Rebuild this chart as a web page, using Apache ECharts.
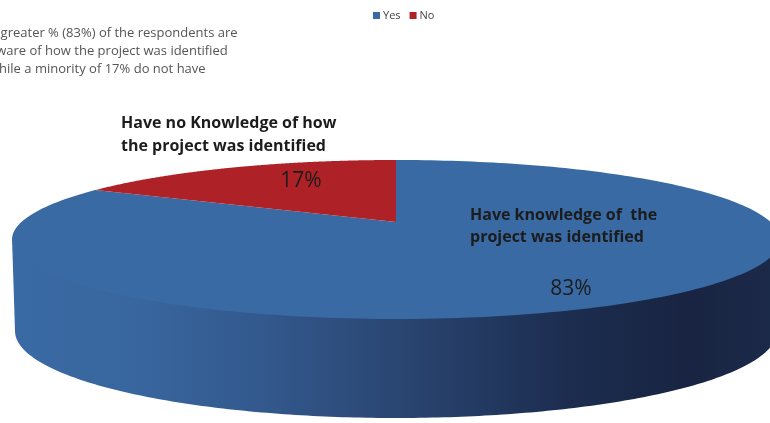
<!DOCTYPE html>
<html>
<head>
<meta charset="utf-8">
<style>
html,body{margin:0;padding:0;background:#fff;overflow:hidden}
#c{width:770px;height:423px;filter:blur(0.6px)}
</style>
<script src="https://cdn.jsdelivr.net/npm/echarts@6/dist/echarts.min.js"></script>
</head>
<body>
<div id="c"></div>
<script>
const categories = ['Yes', 'No'];
const values = [83, 17];
const percentLabels = ['83%', '17%'];
const sliceNotes = [
  'Have knowledge of  the\nproject was identified',
  'Have no Knowledge of how\nthe project was identified'
];
const noteLines = [
  'A greater % (83%) of the respondents are',
  'aware of how the project was identified',
  'while a minority of 17% do not have'
];
const colors = ['#3a6aa4', '#ae2227'];

const total = values.reduce((a, b) => a + b, 0);
const topRim = { cx: 396, cy: 239.5, rx: 384, ry: 79.5 };
const bottomRim = { cx: 396, cy: 331, rx: 381, ry: 87 };
const apex = { x: 396, y: 222, k: 74 };

// Perspective projection: ray from the apex at pie angle a, meeting the top ellipse
function rim(a) {
  const dx = topRim.rx * Math.sin(a), dy = -apex.k * Math.cos(a);
  const ox = (apex.x - topRim.cx) / topRim.rx, oy = (apex.y - topRim.cy) / topRim.ry;
  const ux = dx / topRim.rx, uy = dy / topRim.ry;
  const A = ux * ux + uy * uy, B = 2 * (ox * ux + oy * uy), C = ox * ox + oy * oy - 1;
  const t = (-B + Math.sqrt(B * B - 4 * A * C)) / (2 * A);
  return [apex.x + t * dx, apex.y + t * dy];
}
function sector(start, end) {
  const pts = [[apex.x, apex.y]];
  const n = 240;
  for (let i = 0; i <= n; i++) pts.push(rim(start + (end - start) * i / n));
  return pts;
}
function sidePoints() {
  const pts = [];
  for (let i = 0; i <= 200; i++) {
    const t = Math.PI * i / 200;
    pts.push([topRim.cx + topRim.rx * Math.cos(t), topRim.cy - 1.5 + topRim.ry * Math.sin(t)]);
  }
  for (let i = 200; i >= 0; i--) {
    const t = Math.PI * i / 200;
    pts.push([bottomRim.cx + bottomRim.rx * Math.cos(t), bottomRim.cy + bottomRim.ry * Math.sin(t)]);
  }
  return pts;
}
const sideGradient = new echarts.graphic.LinearGradient(12, 0, 782, 0, [
  { offset: 0, color: '#3a6aa4' },
  { offset: 0.16, color: '#38669e' },
  { offset: 0.32, color: '#33598e' },
  { offset: 0.5, color: '#2a4672' },
  { offset: 0.72, color: '#1c2d50' },
  { offset: 0.88, color: '#182441' },
  { offset: 1, color: '#1c2a4a' }
], true);

const labelPos = [
  { pct: [571, 289], note: [470, 226.5] },
  { pct: [301, 181], note: [121, 135] }
];
const fontFam = '"Open Sans", Lato, sans-serif';

function makeSeries(idx) {
  const before = values.slice(0, idx).reduce((a, b) => a + b, 0);
  return {
    type: 'custom',
    name: categories[idx],
    coordinateSystem: 'none',
    silent: true,
    animation: false,
    itemStyle: { color: colors[idx] },
    data: [[values[idx]]],
    renderItem: function (params, api) {
      const v = api.value(0);
      const a0 = 2 * Math.PI * before / total;
      const a1 = a0 + 2 * Math.PI * v / total;
      const children = [];
      if (idx === 0) {
        children.push({
          type: 'polygon', shape: { points: sidePoints() },
          style: { fill: sideGradient }
        });
      }
      children.push({
        type: 'polygon', shape: { points: sector(a0, a1) },
        style: { fill: colors[idx] }
      });
      const p = labelPos[idx];
      children.push({
        type: 'text', z2: 10,
        style: {
          x: p.note[0], y: p.note[1], text: sliceNotes[idx], fill: '#1c1c1c',
          font: 'bold 16px ' + fontFam, lineHeight: 22.5, textVerticalAlign: 'middle'
        }
      });
      children.push({
        type: 'text', z2: 10,
        style: {
          x: p.pct[0], y: p.pct[1], text: percentLabels[idx], fill: '#1c1c1c',
          font: '21px ' + fontFam, textAlign: 'center', textVerticalAlign: 'middle'
        }
      });
      return { type: 'group', children: children };
    }
  };
}

const chart = echarts.init(document.getElementById('c'), null, { renderer: 'canvas' });
chart.setOption({
  backgroundColor: '#fff',
  animation: false,
  legend: {
    data: categories, left: 368, top: 5, icon: 'rect',
    itemWidth: 7, itemHeight: 7, itemGap: 9,
    textStyle: { fontSize: 11, color: '#444', fontFamily: fontFam, padding: [0, 0, 0, -2] }
  },
  graphic: noteLines.map((t, i) => ({
    type: 'text', left: -11, top: 27 + i * 18,
    style: { text: t, fill: '#555', font: '13px ' + fontFam }
  })),
  series: categories.map((_, i) => makeSeries(i))
});
</script>
</body>
</html>
